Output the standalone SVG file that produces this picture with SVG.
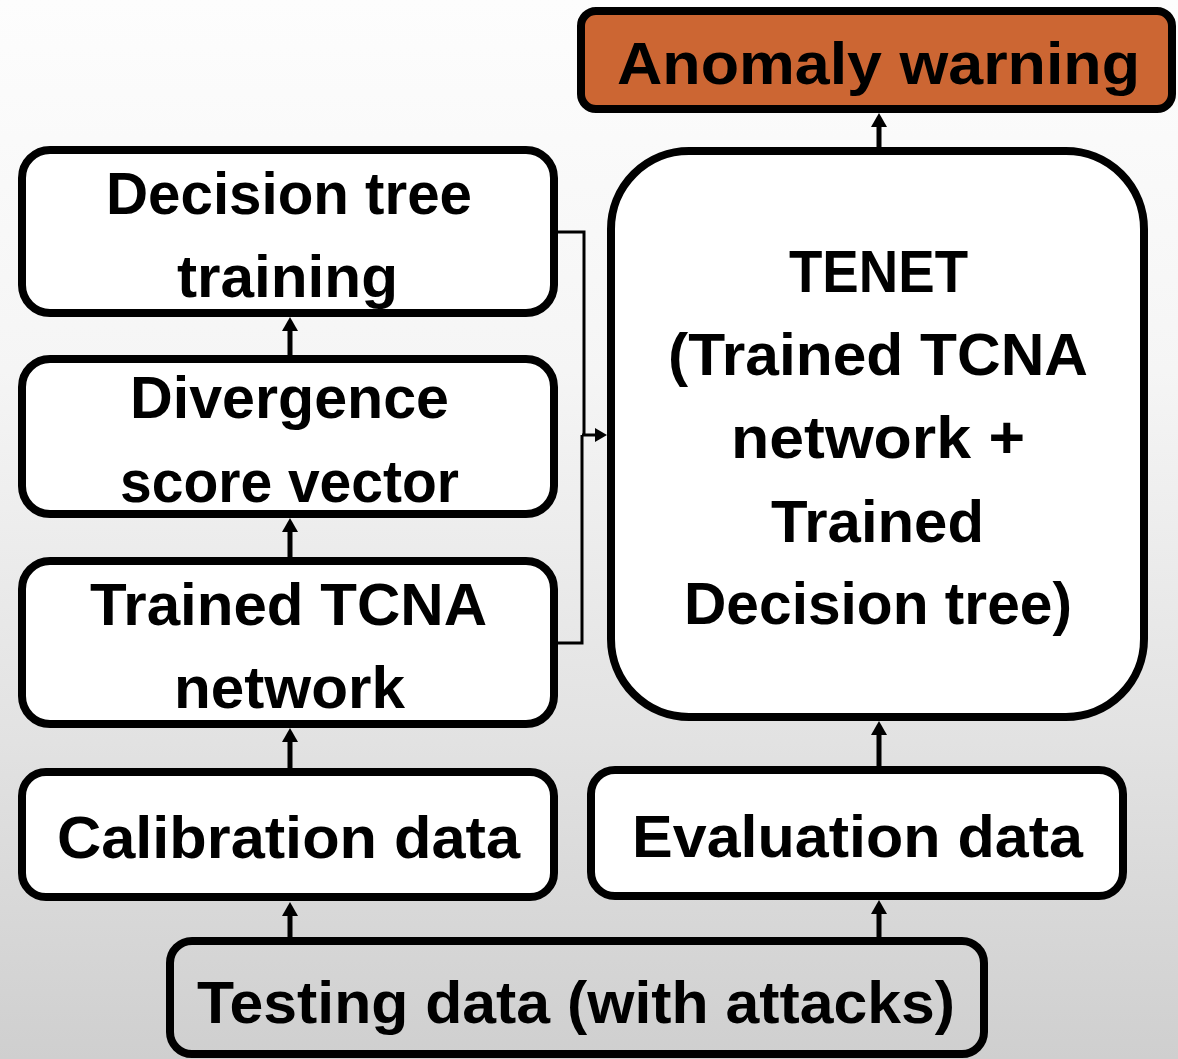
<svg xmlns="http://www.w3.org/2000/svg" width="1178" height="1059" viewBox="0 0 1178 1059">
  <defs>
    <linearGradient id="bg" x1="0" y1="0" x2="0" y2="1">
      <stop offset="0" stop-color="#fdfdfd"/>
      <stop offset="0.35" stop-color="#f5f5f5"/>
      <stop offset="0.7" stop-color="#e2e2e2"/>
      <stop offset="1" stop-color="#cfcfcf"/>
    </linearGradient>
    <marker id="head" markerUnits="userSpaceOnUse" markerWidth="14" markerHeight="16" refX="1" refY="8" orient="auto">
      <path d="M0,0 L14,8 L0,16 Z" fill="#000"/>
    </marker>
    <marker id="headSmall" markerUnits="userSpaceOnUse" markerWidth="12" markerHeight="14" refX="1" refY="7" orient="auto">
      <path d="M0,0 L12,7 L0,14 Z" fill="#000"/>
    </marker>
  </defs>
  <style>
    .box { fill: #ffffff; stroke: #000; stroke-width: 8; }
    .warn { fill: #cc6633; stroke: #000; stroke-width: 8; }
    .plain { fill: none; stroke: #000; stroke-width: 8; }
    .lbl { font-family: "Liberation Sans", Arial, sans-serif; font-weight: bold; font-size: 60px; fill: #000; text-anchor: middle; }
    .flow { fill: none; stroke: #000; stroke-width: 5; marker-end: url(#head); }
    .side { fill: none; stroke: #000; stroke-width: 3; }
    .sideArrow { fill: none; stroke: #000; stroke-width: 3; marker-end: url(#headSmall); }
  </style>

  <rect x="0" y="0" width="1178" height="1059" fill="url(#bg)"/>

  <g id="anomaly-warning">
    <rect class="warn" x="581" y="11" width="591" height="98" rx="15"/>
    <text class="lbl" x="878.5" y="84" textLength="523" lengthAdjust="spacingAndGlyphs">Anomaly warning</text>
  </g>

  <g id="decision-tree-training">
    <rect class="box" x="22" y="150" width="532" height="163" rx="28"/>
    <text class="lbl" x="289" y="214" textLength="366" lengthAdjust="spacingAndGlyphs">Decision tree</text>
    <text class="lbl" x="287.5" y="297" textLength="221" lengthAdjust="spacingAndGlyphs">training</text>
  </g>

  <g id="divergence-score">
    <rect class="box" x="22" y="359" width="532" height="155" rx="28"/>
    <text class="lbl" x="289.5" y="418" textLength="319" lengthAdjust="spacingAndGlyphs">Divergence</text>
    <text class="lbl" x="289.5" y="502" textLength="339" lengthAdjust="spacingAndGlyphs">score vector</text>
  </g>

  <g id="trained-tcna">
    <rect class="box" x="22" y="561" width="532" height="163" rx="28"/>
    <text class="lbl" x="288.5" y="625" textLength="397" lengthAdjust="spacingAndGlyphs">Trained TCNA</text>
    <text class="lbl" x="289.5" y="708" textLength="231" lengthAdjust="spacingAndGlyphs">network</text>
  </g>

  <g id="calibration-data">
    <rect class="box" x="22" y="772" width="532" height="125" rx="24"/>
    <text class="lbl" x="288.5" y="858" textLength="463" lengthAdjust="spacingAndGlyphs">Calibration data</text>
  </g>

  <g id="tenet">
    <rect class="box" x="611" y="151" width="533" height="566" rx="78"/>
    <text class="lbl" x="878.5" y="292" textLength="179" lengthAdjust="spacingAndGlyphs">TENET</text>
    <text class="lbl" x="878" y="375" textLength="420" lengthAdjust="spacingAndGlyphs">(Trained TCNA</text>
    <text class="lbl" x="878" y="458" textLength="294" lengthAdjust="spacingAndGlyphs">network +</text>
    <text class="lbl" x="877.5" y="542" textLength="213" lengthAdjust="spacingAndGlyphs">Trained</text>
    <text class="lbl" x="878" y="624" textLength="388" lengthAdjust="spacingAndGlyphs">Decision tree)</text>
  </g>

  <g id="evaluation-data">
    <rect class="box" x="591" y="770" width="532" height="126" rx="24"/>
    <text class="lbl" x="857.5" y="857" textLength="451" lengthAdjust="spacingAndGlyphs">Evaluation data</text>
  </g>

  <g id="testing-data">
    <rect class="plain" x="170" y="941" width="814" height="113" rx="22"/>
    <text class="lbl" x="576" y="1023" textLength="758" lengthAdjust="spacingAndGlyphs">Testing data (with attacks)</text>
  </g>

  <g id="connectors">
    <!-- upward data flow -->
    <path class="flow" d="M290,937 V915"/>
    <path class="flow" d="M879,937 V913"/>
    <path class="flow" d="M290,768 V741"/>
    <path class="flow" d="M290,557 V531"/>
    <path class="flow" d="M290,355 V330"/>
    <path class="flow" d="M879,766 V734"/>
    <path class="flow" d="M879,147 V126"/>
    <!-- trained models merged into TENET -->
    <path class="side" d="M558,232 H584 V435"/>
    <path class="side" d="M558,643 H582 V435"/>
    <path class="sideArrow" d="M582,435 H596"/>
  </g>
</svg>
